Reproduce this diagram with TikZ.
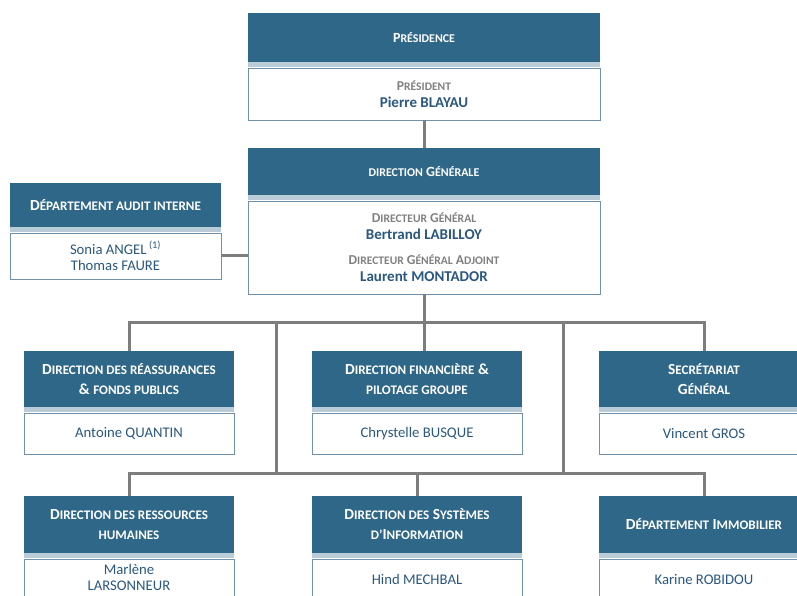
\documentclass[tikz,border=0pt]{standalone}
\usepackage{fontspec}
\setmainfont{Carlito}
\usetikzlibrary{positioning}

\definecolor{headblue}{RGB}{47,103,136}
\definecolor{stripblue}{RGB}{185,204,216}
\definecolor{frameblue}{RGB}{112,146,172}
\definecolor{nameblue}{RGB}{42,88,128}
\definecolor{titlegray}{RGB}{128,128,128}
\definecolor{linkgray}{RGB}{125,125,125}

\makeatletter
\newcommand\lc[1]{{\fontsize{\the\dimexpr 0.85\dimexpr\f@size pt\relax\relax}{\baselineskip}\selectfont\MakeUppercase{#1}}}
\makeatother
\newcommand\titl[1]{{\color{titlegray}\bfseries\fontsize{13.6}{18}\selectfont #1}}

\tikzset{
	head/.style={fill=headblue, text=white, font=\bfseries\fontsize{15.4}{20}\selectfont, align=center, inner sep=0pt, minimum width=#1},
	tophead/.style={head=#1, font=\bfseries\fontsize{14}{20}\selectfont},
	strip/.style={fill=stripblue, inner sep=0pt, minimum width=#1, minimum height=5pt},
	body/.style={draw=frameblue, fill=white, text=nameblue, font=\fontsize{14.7}{17}\selectfont, align=center, inner sep=0pt, minimum width=#1},
	link/.style={draw=linkgray, line width=3pt, line join=miter}
}

\begin{document}
\begin{tikzpicture}[x=1pt, y=-1pt]
				\path[use as bounding box, clip] (0,0) rectangle (797,595);
				
				\node[tophead=352pt, minimum height=49pt] (pres) at (424,37.5) {P\lc{résidence}};
				\node[strip=352pt, below=0pt of pres] (pres-s) {};
				\node[body=352pt, minimum height=52pt, below=0pt of pres-s] (pres-b) {\titl{P\lc{résident}}\\\textbf{\fontsize{15}{17}\selectfont Pierre BLAYAU}};
				
				\node[tophead=352pt, minimum height=47pt] (dg) at (424,171.5) {\lc{direction} G\lc{énérale}};
				\node[strip=352pt, below=0pt of dg] (dg-s) {};
				\node[body=352pt, minimum height=93pt, below=0pt of dg-s] (dg-b) {\titl{D\lc{irecteur} G\lc{énéral}}\\\textbf{\fontsize{15}{17}\selectfont Bertrand LABILLOY}\\[8pt]\titl{D\lc{irecteur} G\lc{énéral} A\lc{djoint}}\\\textbf{\fontsize{15}{17}\selectfont Laurent MONTADOR}};
				
				\node[head=211pt, minimum height=44pt] (audit) at (115.5,205) {D\lc{épartement audit interne}};
				\node[strip=211pt, below=0pt of audit] (audit-s) {};
				\node[body=211pt, minimum height=46pt, below=0pt of audit-s, font=\fontsize{14.7}{16}\selectfont] (audit-b) {Sonia ANGEL\,\textsuperscript{(1)}\\Thomas FAURE};
				
				\node[head=210pt, minimum height=56pt] (reas) at (129,379) {D\lc{irection des réassurances}\\\& \lc{fonds publics}};
				\node[strip=210pt, below=0pt of reas] (reas-s) {};
				\node[body=210pt, minimum height=41pt, below=0pt of reas-s] (reas-b) {Antoine QUANTIN};
				
				\node[head=210pt, minimum height=56pt] (fin) at (417,379) {D\lc{irection financière} \&\\\lc{pilotage groupe}};
				\node[strip=210pt, below=0pt of fin] (fin-s) {};
				\node[body=210pt, minimum height=41pt, below=0pt of fin-s] (fin-b) {Chrystelle BUSQUE};
				
				\node[head=210pt, minimum height=56pt] (sec) at (704,379) {S\lc{ecrétariat}\\G\lc{énéral}};
				\node[strip=210pt, below=0pt of sec] (sec-s) {};
				\node[body=210pt, minimum height=41pt, below=0pt of sec-s] (sec-b) {Vincent GROS};
				
				\node[head=210pt, minimum height=57pt] (rh) at (129,524.5) {D\lc{irection des ressources}\\\lc{humaines}};
				\node[strip=210pt, below=0pt of rh] (rh-s) {};
				\node[body=210pt, minimum height=38pt, below=0pt of rh-s, font=\fontsize{14.7}{16}\selectfont] (rh-b) {Marlène\\LARSONNEUR};
				
				\node[head=210pt, minimum height=57pt] (si) at (417,524.5) {D\lc{irection des} S\lc{ystèmes}\\\lc{d’}I\lc{nformation}};
				\node[strip=210pt, below=0pt of si] (si-s) {};
				\node[body=210pt, minimum height=42pt, below=0pt of si-s] (si-b) {Hind MECHBAL};
				
				\node[head=210pt, minimum height=57pt] (imm) at (704,524.5) {D\lc{épartement} I\lc{mmobilier}};
				\node[strip=210pt, below=0pt of imm] (imm-s) {};
				\node[body=210pt, minimum height=42pt, below=0pt of imm-s] (imm-b) {Karine ROBIDOU};
				
				\coordinate (bus1) at (424,322);
				\coordinate (bus2) at (424,473);
				\coordinate (tapl) at (276,322);
				\coordinate (tapr) at (563,322);
				
				\draw[link] (pres-b.south) -- (dg.north);
				\draw[link] (audit-b.east) -- (audit-b.east -| dg-b.west);
				\draw[link] (dg-b.south) -- (dg-b.south |- fin.north);
				\draw[link] (reas.north) -- (reas.north |- bus1) -- (sec.north |- bus1) -- (sec.north);
				\draw[link] (tapl) -- (tapl |- bus2);
				\draw[link] (tapr) -- (tapr |- bus2);
				\draw[link] (rh.north) -- (rh.north |- bus2) -- (imm.north |- bus2) -- (imm.north);
				\draw[link] (si.north |- bus2) -- (si.north);
\end{tikzpicture}
\end{document}
